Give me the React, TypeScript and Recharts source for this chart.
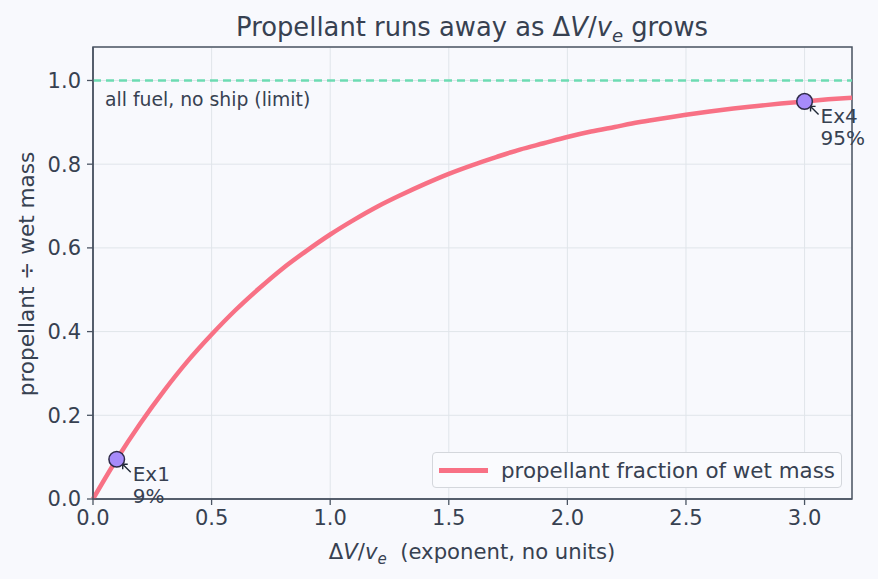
import {
  ComposedChart,
  Line,
  Scatter,
  XAxis,
  YAxis,
  CartesianGrid,
  ReferenceLine,
  ReferenceArea,
} from 'recharts';

// ΔV/v_e sample points along the curve and the propellant fraction at each
const ratio = [
  0, 0.1, 0.2, 0.3, 0.4, 0.5, 0.6, 0.7, 0.8, 0.9, 1.0, 1.1, 1.2, 1.3, 1.4, 1.5, 1.6,
  1.7, 1.8, 1.9, 2.0, 2.1, 2.2, 2.3, 2.4, 2.5, 2.6, 2.7, 2.8, 2.9, 3.0, 3.1, 3.2,
];
const fraction = [
  0, 0.095, 0.181, 0.259, 0.33, 0.393, 0.451, 0.503, 0.551, 0.593, 0.632, 0.667, 0.699,
  0.727, 0.753, 0.777, 0.798, 0.817, 0.835, 0.85, 0.865, 0.878, 0.889, 0.9, 0.909, 0.918,
  0.926, 0.933, 0.939, 0.945, 0.95, 0.955, 0.959,
];

// worked examples marked on the curve
const exampleNames = ['Ex1', 'Ex4'];
const exampleRatio = [0.1, 3.0];
const exampleFraction = [0.095, 0.95];
const examplePct = ['9%', '95%'];

const xTicks = [0, 0.5, 1.0, 1.5, 2.0, 2.5, 3.0];
const yTicks = [0, 0.2, 0.4, 0.6, 0.8, 1.0];

const curve = ratio.map((x, i) => ({ x, y: fraction[i] }));
const examples = exampleNames.map((name, i) => ({
  name,
  x: exampleRatio[i],
  y: exampleFraction[i],
  pct: examplePct[i],
}));

const FONT = '"DejaVu Sans", sans-serif';
const INK = '#374151';
const SPINE = '#4b5563';
const ROSE = '#f87185';

// eslint-disable-next-line @typescript-eslint/no-explicit-any
const ExampleDot = (props: any) => {
  const { cx, cy, payload } = props;
  return (
    <g>
      <path
        d={`M ${cx + 14} ${cy + 13} L ${cx + 6} ${cy + 5} M ${cx + 6} ${cy + 5} l 5 0 M ${cx + 6} ${cy + 5} l 0 5`}
        stroke="#1f2937"
        strokeWidth={1.4}
        fill="none"
      />
      <circle cx={cx} cy={cy} r={7.8} fill="#a78bfa" stroke="#2e2a48" strokeWidth={1.5} />
      <text x={cx + 16} y={cy + 22} fontSize={20} fill={INK} fontFamily={FONT}>
        {payload.name}
      </text>
      <text x={cx + 16} y={cy + 44} fontSize={20} fill={INK} fontFamily={FONT}>
        {payload.pct}
      </text>
    </g>
  );
};

export default function App() {
  return (
    <div
      style={{
        position: 'absolute',
        left: 0,
        top: 0,
        width: 878,
        height: 579,
        background: '#f8f9fd',
      }}
    >
      <ComposedChart
        width={878}
        height={579}
        data={curve}
        margin={{ top: 47, right: 26, bottom: 40, left: 23 }}
      >
        <CartesianGrid stroke="#e0e5ea" strokeWidth={1} />
        <XAxis
          dataKey="x"
          type="number"
          domain={[0, 3.2]}
          ticks={xTicks}
          tickFormatter={(v: number) => v.toFixed(1)}
          height={40}
          tick={{ fontSize: 21, fill: INK, fontFamily: FONT, dy: 3 }}
          tickSize={6}
          tickLine={{ stroke: SPINE, strokeWidth: 1.3 }}
          axisLine={{ stroke: SPINE, strokeWidth: 1.5 }}
        />
        <YAxis
          type="number"
          domain={[0, 1.08]}
          ticks={yTicks}
          tickFormatter={(v: number) => v.toFixed(1)}
          width={70}
          tick={{ fontSize: 21, fill: INK, fontFamily: FONT, dx: -4 }}
          tickSize={6}
          tickLine={{ stroke: SPINE, strokeWidth: 1.3 }}
          axisLine={{ stroke: SPINE, strokeWidth: 1.5 }}
        />
        <ReferenceLine
          y={1}
          stroke="#6ddbb3"
          strokeWidth={2.3}
          strokeDasharray="8 5"
          label={{
            value: 'all fuel, no ship (limit)',
            position: 'insideBottomLeft',
            dx: 7,
            dy: 31,
            fontSize: 18.8,
            fill: INK,
            fontFamily: FONT,
          }}
        />
        <Line
          dataKey="y"
          type="monotone"
          stroke={ROSE}
          strokeWidth={4.5}
          dot={false}
          activeDot={false}
          isAnimationActive={false}
          name="propellant fraction of wet mass"
        />
        <ReferenceArea
          x1={0}
          x2={3.2}
          y1={0}
          y2={1.08}
          fill="none"
          stroke={SPINE}
          strokeWidth={1.5}
          fillOpacity={0}
        />
        <Scatter data={examples} dataKey="y" shape={ExampleDot} isAnimationActive={false} />
      </ComposedChart>

      {/* legend box, lower right of the plot */}
      <div
        style={{
          position: 'absolute',
          left: 432,
          top: 452,
          width: 410,
          height: 36,
          boxSizing: 'border-box',
          display: 'flex',
          alignItems: 'center',
          padding: '0 6px',
          border: '1.5px solid #d4d7dc',
          borderRadius: 4,
          background: '#fafbfe',
          fontFamily: FONT,
          fontSize: 21.4,
          color: INK,
          whiteSpace: 'nowrap',
        }}
      >
        <span
          style={{ display: 'inline-block', width: 49, height: 5, background: ROSE, marginRight: 13 }}
        />
        <span>propellant fraction of wet mass</span>
      </div>

      <svg
        width={878}
        height={579}
        style={{ position: 'absolute', left: 0, top: 0, pointerEvents: 'none' }}
        fontFamily={FONT}
      >
        <text x={472} y={36} textAnchor="middle" fontSize={25.8} fill={INK}>
          Propellant runs away as Δ<tspan fontStyle="italic">V</tspan>/
          <tspan fontStyle="italic">v</tspan>
          <tspan fontStyle="italic" fontSize={18} dy={6}>e</tspan>
          <tspan dy={-6}> grows</tspan>
        </text>
        <text x={472} y={559} textAnchor="middle" fontSize={21.2} fill={INK}>
          Δ<tspan fontStyle="italic">V</tspan>/<tspan fontStyle="italic">v</tspan>
          <tspan fontStyle="italic" fontSize={15} dy={5}>e</tspan>
          <tspan dy={-5} xmlSpace="preserve">  (exponent, no units)</tspan>
        </text>
        <text
          x={0}
          y={0}
          transform="translate(34 274) rotate(-90)"
          textAnchor="middle"
          fontSize={21.6}
          fill={INK}
        >
          propellant ÷ wet mass
        </text>
      </svg>
    </div>
  );
}
